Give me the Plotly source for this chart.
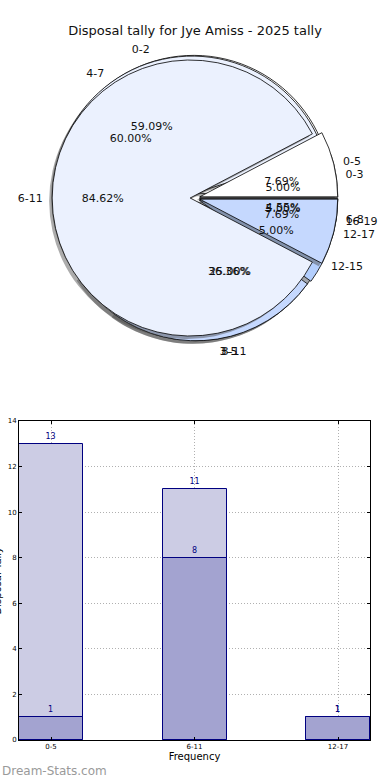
import plotly.graph_objects as go

# ---------------- data ----------------
chart_title = "Disposal tally for Jye Amiss - 2025 tally"

# pie 1 : 6-wide bins (drawn on top)
bins6 = ["0-5", "6-11", "12-17"]
counts6 = [1, 11, 1]
# pie 2 : 3-wide bins
bins3 = ["0-2", "3-5", "6-8"]
counts3 = [13, 8, 1]
# pie 3 : 4-wide bins
bins4 = ["0-3", "4-7", "8-11", "12-15", "16-19"]
counts4 = [1, 12, 5, 1, 1]

# bar chart
bar_cats = ["0-5", "6-11", "12-17"]
bar_light = [13, 11, 1]
bar_dark = [1, 8, 1]
y_title = "Disposal Tally"
x_title = "Frequency"
watermark = "Dream-Stats.com"

# ---------------- styling / layout ----------------
W, H = 390, 780
palette = ["#FFFFFF", "#EBF1FE", "#C5D8FE", "#B3CEFD", "#DCE8FE"]
PULL = 0.035
CX, CY, R = 195, 198, 138
FONT = "DejaVu Sans"


def dom(cx, cy, half):
    return dict(x=[(cx - half) / W, (cx + half) / W],
                y=[1 - (cy + half) / H, 1 - (cy - half) / H])


pie_half = R * (1 + PULL)
label_r = 149
pct_r = 68

fig = go.Figure()

pies = [(bins3, counts3), (bins4, counts4), (bins6, counts6)]

# slices are fed in reverse order and drawn clockwise from 3 o'clock,
# which reproduces a counter-clockwise layout starting at 3 o'clock
for labels, vals in pies:
    n = len(vals)
    lab_r, val_r, col_r = labels[::-1], vals[::-1], palette[:n][::-1]
    # shadow
    fig.add_trace(go.Pie(
        labels=lab_r, values=val_r, sort=False, direction="clockwise",
        rotation=90, pull=[PULL] * n, domain=dom(CX - 3, CY + 3, pie_half),
        marker=dict(colors=["rgba(70,70,70,0.45)"] * n, line=dict(width=0)),
        textinfo="none", hoverinfo="skip", showlegend=False))
    fig.add_trace(go.Pie(
        labels=lab_r, values=val_r, sort=False, direction="clockwise",
        rotation=90, pull=[PULL] * n, domain=dom(CX, CY, pie_half),
        marker=dict(colors=col_r, line=dict(color="#000000", width=0.8)),
        textinfo="none", showlegend=False))

for labels, vals in pies:
    n = len(vals)
    lab_r, val_r = labels[::-1], vals[::-1]
    # category labels outside
    fig.add_trace(go.Pie(
        labels=lab_r, values=val_r, sort=False, direction="clockwise",
        rotation=90, domain=dom(CX, CY, label_r),
        marker=dict(colors=["rgba(0,0,0,0)"] * n, line=dict(width=0)),
        textposition="outside", texttemplate="%{label}",
        textfont=dict(family=FONT, size=11, color="#111111"),
        hoverinfo="skip", showlegend=False))
    # percentages
    fig.add_trace(go.Pie(
        labels=lab_r, values=val_r, sort=False, direction="clockwise",
        rotation=90, domain=dom(CX, CY, pct_r),
        marker=dict(colors=["rgba(0,0,0,0)"] * n, line=dict(width=0)),
        textposition="outside", texttemplate="%{percent:.2%}",
        textfont=dict(family=FONT, size=11, color="#111111"),
        hoverinfo="skip", showlegend=False))

# bars
fig.add_trace(go.Bar(
    x=bar_cats, y=bar_light, width=0.446, marker=dict(color="#CCCCE4", line=dict(color="#000080", width=1)),
    text=bar_light, textposition="outside", textfont=dict(family=FONT, size=8, color="#000080"),
    cliponaxis=False, showlegend=False))
fig.add_trace(go.Bar(
    x=bar_cats, y=bar_dark, width=0.446, marker=dict(color="#A3A3D0", line=dict(color="#000080", width=1)),
    text=bar_dark, textposition="outside", textfont=dict(family=FONT, size=8, color="#000080"),
    cliponaxis=False, showlegend=False))

axis_common = dict(showline=True, linecolor="#000000", linewidth=1, mirror="ticks",
                   ticks="inside", ticklen=3, tickcolor="#000000", automargin=False,
                   showgrid=True, gridcolor="#B0B0B0", griddash="1px,2px", gridwidth=1,
                   zeroline=False, tickfont=dict(family=FONT, size=7, color="#000000"))

y_top, y_bot = 421, 740

fig.update_layout(
    width=W, height=H, margin=dict(l=0, r=0, t=0, b=0),
    paper_bgcolor="white", plot_bgcolor="white",
    barmode="overlay", bargap=0,
    font=dict(family=FONT),
    title=dict(text=chart_title, x=0.5, xanchor="center", y=1 - 30 / H, yanchor="middle",
               font=dict(family=FONT, size=13, color="#111111")),
    xaxis=dict(domain=[19 / W, 370 / W], type="category", range=[-0.223, 2.223],
               title=dict(text=x_title, standoff=2, font=dict(family=FONT, size=10, color="#000000")),
               **axis_common),
    yaxis=dict(domain=[1 - y_bot / H, 1 - y_top / H], range=[0, 14], dtick=2, **axis_common),
    annotations=[
        dict(text=y_title, x=-3 / W, y=1 - (y_top + y_bot) / 2 / H, xref="paper", yref="paper",
             xanchor="center", yanchor="middle", textangle=-90, showarrow=False,
             font=dict(family=FONT, size=10, color="#000000")),
        dict(text=watermark, x=0, y=1 - 771 / H, xref="paper", yref="paper",
             xanchor="left", yanchor="middle", showarrow=False,
             font=dict(family=FONT, size=12, color="#9A9A9A")),
    ],
)

fig.write_html("out.html", config={"displayModeBar": False},
               post_script="document.body.style.margin='0';document.body.style.overflow='hidden';")
